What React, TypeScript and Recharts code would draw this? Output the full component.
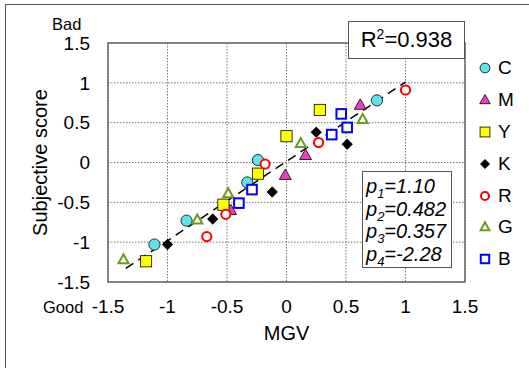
import { ScatterChart, Scatter, XAxis, YAxis, CartesianGrid, ReferenceLine, ReferenceArea, Legend } from 'recharts';

const FONT = 'Arial, "Liberation Sans", sans-serif';

// axis ticks
const axisTicks = [-1.5, -1, -0.5, 0, 0.5, 1, 1.5];

// points (MGV, subjective score)
const cyanPoints = [
  { x: -1.11, y: -1.03 },
  { x: -0.84, y: -0.73 },
  { x: -0.33, y: -0.25 },
  { x: -0.24, y: 0.03 },
  { x: 0.76, y: 0.78 },
];
const magentaPoints = [
  { x: -0.47, y: -0.6 },
  { x: -0.01, y: -0.16 },
  { x: 0.16, y: 0.09 },
  { x: 0.62, y: 0.72 },
];
const yellowPoints = [
  { x: -1.18, y: -1.24 },
  { x: -0.53, y: -0.53 },
  { x: -0.24, y: -0.14 },
  { x: 0.0, y: 0.33 },
  { x: 0.28, y: 0.66 },
];
const blackPoints = [
  { x: -1.0, y: -1.03 },
  { x: -0.62, y: -0.71 },
  { x: -0.12, y: -0.37 },
  { x: 0.25, y: 0.38 },
  { x: 0.51, y: 0.23 },
];
const redPoints = [
  { x: -0.67, y: -0.93 },
  { x: -0.51, y: -0.65 },
  { x: -0.18, y: -0.02 },
  { x: 0.27, y: 0.25 },
  { x: 1.0, y: 0.91 },
];
const greenPoints = [
  { x: -1.37, y: -1.22 },
  { x: -0.75, y: -0.72 },
  { x: -0.49, y: -0.39 },
  { x: 0.12, y: 0.24 },
  { x: 0.64, y: 0.54 },
];
const bluePoints = [
  { x: -0.4, y: -0.51 },
  { x: -0.29, y: -0.34 },
  { x: 0.38, y: 0.35 },
  { x: 0.46, y: 0.61 },
  { x: 0.51, y: 0.44 },
];

// fitted line end points
const fitLine = [
  { x: -1.35, y: -1.33 },
  { x: 1.0, y: 1.01 },
];

const params = [
  { n: '1', v: '1.10' },
  { n: '2', v: '0.482' },
  { n: '3', v: '0.357' },
  { n: '4', v: '-2.28' },
];

type Kind = 'circle' | 'triangle' | 'square' | 'diamond';

const series: { name: string; data: { x: number; y: number }[]; kind: Kind; fill: string; stroke: string; open: boolean }[] = [
  { name: 'C', data: cyanPoints, kind: 'circle', fill: '#5fe4ec', stroke: '#000', open: false },
  { name: 'M', data: magentaPoints, kind: 'triangle', fill: '#ee3fc2', stroke: '#000', open: false },
  { name: 'Y', data: yellowPoints, kind: 'square', fill: '#ffff00', stroke: '#000', open: false },
  { name: 'K', data: blackPoints, kind: 'diamond', fill: '#000', stroke: '#000', open: false },
  { name: 'R', data: redPoints, kind: 'circle', fill: '#fff', stroke: '#ff0000', open: true },
  { name: 'G', data: greenPoints, kind: 'triangle', fill: '#fff', stroke: '#6a9a1f', open: true },
  { name: 'B', data: bluePoints, kind: 'square', fill: '#fff', stroke: '#0000ff', open: true },
];

function Marker({ kind, cx, cy, fill, stroke, open, scale = 1 }: any) {
  const sw = open ? 2 : 0.8;
  if (kind === 'circle') {
    const r = (open ? 4.6 : 5.6) * scale;
    return <circle cx={cx} cy={cy} r={r} fill={fill} stroke={stroke} strokeWidth={sw} />;
  }
  if (kind === 'square') {
    const h = (open ? 4.8 : 5.6) * scale;
    return <rect x={cx - h} y={cy - h} width={h * 2} height={h * 2} fill={fill} stroke={stroke} strokeWidth={sw} />;
  }
  if (kind === 'triangle') {
    const w = (open ? 5 : 6) * scale;
    const h = (open ? 9 : 10.5) * scale;
    const pts = `${cx},${cy - h * 0.6} ${cx - w},${cy + h * 0.4} ${cx + w},${cy + h * 0.4}`;
    return <polygon points={pts} fill={fill} stroke={stroke} strokeWidth={sw} strokeLinejoin="miter" />;
  }
  const d = 5.2 * scale;
  const pts = `${cx},${cy - d} ${cx + d},${cy} ${cx},${cy + d} ${cx - d},${cy}`;
  return <polygon points={pts} fill={fill} stroke={stroke} strokeWidth={sw} />;
}

function LegendBox() {
  return (
    <div style={{ fontFamily: FONT }}>
      {series.map((s) => (
        <div key={s.name} style={{ height: 31.9, display: 'flex', alignItems: 'center' }}>
          <svg width={14} height={14} style={{ display: 'block' }}>
            <Marker kind={s.kind} cx={7} cy={7} fill={s.fill} stroke={s.stroke} open={s.open} scale={0.88} />
          </svg>
          <span style={{ marginLeft: 6, fontSize: 19, color: '#000', lineHeight: '20px' }}>{s.name}</span>
        </div>
      ))}
    </div>
  );
}

export default function App() {
  return (
    <div style={{ position: 'absolute', left: 0, top: 0, width: 529, height: 368, background: '#fff', overflow: 'hidden', fontFamily: FONT }}>
      <div style={{ position: 'absolute', left: 5, top: 4, width: 700, height: 500, borderLeft: '1.5px solid #555', borderTop: '1.5px solid #555' }} />
      <ScatterChart width={529} height={368} margin={{ top: 43, right: 14, bottom: 26, left: 48 }} style={{ fontFamily: FONT }}>
        <CartesianGrid stroke="#777" strokeDasharray="1.5 1.5" strokeWidth={1} />
        <XAxis
          type="number"
          dataKey="x"
          domain={[-1.5, 1.5]}
          ticks={axisTicks}
          axisLine={false}
          tickLine={false}
          tickSize={0}
          tickMargin={18}
          height={60}
          tick={{ fill: '#000', fontSize: 19, fontFamily: FONT }}
          label={{
            content: () => (
              <text x={286.5} y={340} textAnchor="middle" fontSize={20} fill="#000" fontFamily={FONT}>MGV</text>
            ),
          }}
        />
        <YAxis
          type="number"
          dataKey="y"
          domain={[-1.5, 1.5]}
          ticks={axisTicks}
          axisLine={false}
          tickLine={false}
          tickSize={0}
          tickMargin={18}
          width={60}
          tick={{ fill: '#000', fontSize: 19, fontFamily: FONT }}
          label={{
            content: () => (
              <text x={47} y={162.5} transform="rotate(-90 47 162.5)" textAnchor="middle" fontSize={20} fill="#000" fontFamily={FONT}>
                Subjective score
              </text>
            ),
          }}
        />
        <ReferenceArea x1={-1.5} x2={1.5} y1={-1.5} y2={1.5} fill="none" fillOpacity={0} stroke="#666" strokeWidth={1.5} />
        {series.map((s) => (
          <Scatter
            key={s.name}
            name={s.name}
            data={s.data}
            isAnimationActive={false}
            shape={(p: any) => <Marker kind={s.kind} cx={p.cx} cy={p.cy} fill={s.fill} stroke={s.stroke} open={s.open} />}
          />
        ))}
        <ReferenceLine segment={fitLine} stroke="#000" strokeWidth={1.5} strokeDasharray="9 6" ifOverflow="visible" />
        <Legend
          layout="horizontal"
          verticalAlign="middle"
          align="right"
          wrapperStyle={{ left: 478, top: 52, width: 50, height: 230 }}
          content={() => <LegendBox />}
        />
      </ScatterChart>

      <svg width={529} height={368} style={{ position: 'absolute', left: 0, top: 0, pointerEvents: 'none' }}>
        <text x={52} y={29.5} fontSize={16.5} fill="#000" fontFamily={FONT}>Bad</text>
        <text x={43} y={312.5} fontSize={16.5} fill="#000" fontFamily={FONT}>Good</text>
      </svg>

      <div
        style={{
          position: 'absolute', left: 348, top: 21, width: 117, height: 38, boxSizing: 'border-box',
          border: '1.5px solid #555', background: '#fff', fontSize: 22, lineHeight: '35px', textAlign: 'center', color: '#000',
        }}
      >
        R<sup style={{ fontSize: 14, verticalAlign: 'top', lineHeight: '24px' }}>2</sup>=0.938
      </div>

      <div
        style={{
          position: 'absolute', left: 362, top: 171, width: 90, height: 97, boxSizing: 'border-box',
          border: '1.5px solid #555', background: '#fff', fontSize: 20, fontStyle: 'italic', color: '#000', padding: '3px 0 0 3px',
        }}
      >
        {params.map((p) => (
          <div key={p.n} style={{ height: 22.5, lineHeight: '22px', whiteSpace: 'nowrap' }}>
            p<sub style={{ fontSize: 13, lineHeight: 0 }}>{p.n}</sub>={p.v}
          </div>
        ))}
      </div>
    </div>
  );
}
